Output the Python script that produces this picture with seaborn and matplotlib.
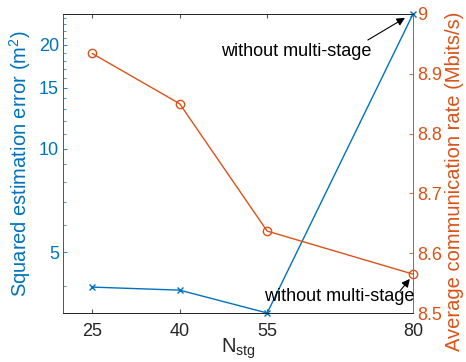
import matplotlib
matplotlib.use("Agg")
import matplotlib.pyplot as plt
from matplotlib.ticker import FixedLocator, NullFormatter, NullLocator
import seaborn as sns
import pandas as pd

# Data
n_stg = [25, 40, 55, 80]
sq_error = [3.96, 3.88, 3.33, 24.6]          # m^2, left (log) axis
comm_rate = [8.934, 8.850, 8.637, 8.565]     # Mbits/s, right axis
x_ticks = [25, 40, 55, 80]
left_ticks = [5, 10, 15, 20]
right_ticks = [8.5, 8.6, 8.7, 8.8, 8.9, 9.0]
right_tick_labels = ["8.5", "8.6", "8.7", "8.8", "8.9", "9"]
note = "without multi-stage"

BLUE = "#0072BD"
ORANGE = "#D95319"
DARK = "#262626"

sns.set_style("ticks")
plt.rcParams["font.family"] = ["Liberation Sans", "DejaVu Sans"]
plt.rcParams["mathtext.fontset"] = "custom"
plt.rcParams["mathtext.rm"] = "Liberation Sans"
plt.rcParams["mathtext.it"] = "Liberation Sans:italic"
plt.rcParams["xtick.direction"] = "in"
plt.rcParams["ytick.direction"] = "in"

df = pd.DataFrame({"n": n_stg, "err": sq_error, "rate": comm_rate})

fig = plt.figure(figsize=(4.66, 3.62), dpi=100)
ax = fig.add_axes([63 / 466, 1 - 313 / 362, 350 / 466, 299 / 362])
ax2 = ax.twinx()

sns.lineplot(data=df, x="n", y="err", ax=ax, color=BLUE, marker="x",
             markersize=4.5, markeredgewidth=1.0, markeredgecolor=BLUE,
             linewidth=1.0, clip_on=False)
sns.lineplot(data=df, x="n", y="rate", ax=ax2, color=ORANGE, marker="o",
             markersize=6, markerfacecolor="none", markeredgecolor=ORANGE,
             markeredgewidth=1.0, linewidth=1.0, clip_on=False)

# Left axis: log scale
ax.set_yscale("log")
ax.set_ylim(min(sq_error), max(sq_error))
ax.yaxis.set_major_locator(FixedLocator(left_ticks))
ax.set_yticklabels([str(t) for t in left_ticks])
minor = [v for v in range(4, 25) if v not in left_ticks]
ax.yaxis.set_minor_locator(FixedLocator(minor))
ax.yaxis.set_minor_formatter(NullFormatter())
ax.set_xlim(20, 80)
ax.set_xticks(x_ticks)
ax.set_xticklabels([str(t) for t in x_ticks])

ax2.set_ylim(8.5, 9.0)
ax2.set_yticks(right_ticks)
ax2.set_yticklabels(right_tick_labels)
ax2.yaxis.set_minor_locator(NullLocator())

ax.set_xlabel(r"N$_{\mathrm{stg}}$", fontsize=14.5, color=DARK, labelpad=-2)
ax.set_ylabel(r"Squared estimation error (m$^{2}$)", fontsize=14.5,
              color=BLUE, labelpad=4)
ax2.set_ylabel("Average communication rate (Mbits/s)", fontsize=14.5,
               color=ORANGE, labelpad=2)
ax2.yaxis.label.set_y(0.44)

ax.tick_params(axis="x", which="both", colors=DARK, labelsize=13,
               length=3, width=0.6, top=True, pad=7)
ax.tick_params(axis="y", which="major", colors=BLUE, labelsize=13,
               length=3, width=0.6, pad=3)
ax.tick_params(axis="y", which="minor", colors=BLUE, length=1.8, width=0.5)
ax2.tick_params(axis="y", colors=ORANGE, labelsize=13, length=3,
                width=0.6, pad=3)

for a in (ax, ax2):
    for side in ("top", "bottom"):
        a.spines[side].set_color(DARK)
        a.spines[side].set_linewidth(0.7)
    a.spines["left"].set_color(BLUE)
    a.spines["right"].set_color(ORANGE)
    a.spines["left"].set_linewidth(0.7)
    a.spines["right"].set_linewidth(0.7)
    a.spines["right"].set_visible(True)
    a.spines["top"].set_visible(True)

# Notes with arrows
arrow = dict(arrowstyle="-|>", color="black", lw=0.8, mutation_scale=12,
             shrinkA=0, shrinkB=0)
ax2.text(0.666, 0.873, note, transform=ax2.transAxes, ha="center",
         va="center", fontsize=13, color="black", zorder=5)
ax2.annotate("", xy=(0.977, 0.987), xytext=(0.871, 0.913),
             xycoords="axes fraction", textcoords="axes fraction",
             arrowprops=arrow)
ax2.text(0.789, 0.054, note, transform=ax2.transAxes, ha="center",
         va="center", fontsize=13, color="black", zorder=5, clip_on=False)
ax2.annotate("", xy=(0.991, 0.114), xytext=(0.963, 0.074),
             xycoords="axes fraction", textcoords="axes fraction",
             arrowprops=arrow)

fig.savefig("out.png", dpi=100, facecolor="white")
